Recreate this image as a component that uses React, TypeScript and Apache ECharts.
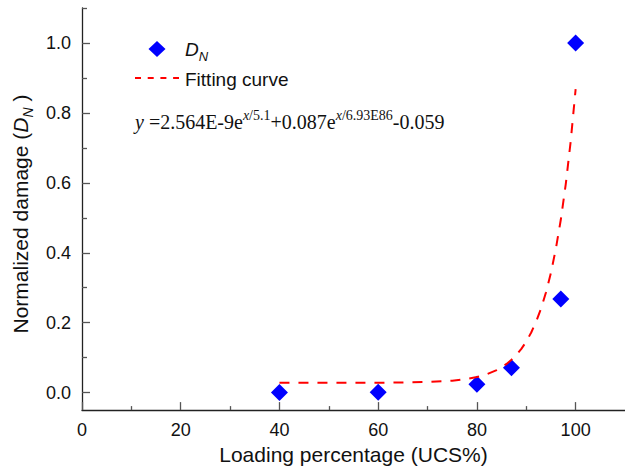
import React, { useEffect, useRef } from "react";
import * as echarts from "echarts";

const xMajorTicks = [0, 20, 40, 60, 80, 100];
const xMinorTicks = [10, 30, 50, 70, 90];
const yMajorTicks = [0, 0.2, 0.4, 0.6, 0.8, 1.0];
const yMinorTicks = [0.1, 0.3, 0.5, 0.7, 0.9, 1.1];

const loadingPct = [40, 60, 80, 87, 97, 100];
const damage = [0.0, 0.001, 0.024, 0.071, 0.268, 1.0];

const fitX = [40, 50, 60, 65, 70, 75, 78, 80, 82, 84, 85, 86, 87, 88, 89, 90, 91, 92, 93, 94, 95, 96, 97, 98, 99, 100];
const fitY = [0.028, 0.028, 0.0283, 0.0289, 0.0303, 0.0342, 0.0392, 0.0446, 0.0526, 0.0645, 0.0724, 0.082, 0.094, 0.108, 0.125, 0.146, 0.172, 0.203, 0.241, 0.287, 0.343, 0.412, 0.495, 0.596, 0.719, 0.868];

const SANS = 'Arial, "Liberation Sans", sans-serif';
const SERIF = '"Times New Roman", "Liberation Serif", serif';
const AXIS_COLOR = "#222";
const TICK_COLOR = "#555";

export default function App() {
  const ref = useRef<HTMLDivElement>(null);
  useEffect(() => {
    if (!ref.current) return;
    const chart = echarts.init(ref.current, undefined, { renderer: "svg" });
    const xBase = { type: "value", min: 0, max: 110, gridIndex: 0, position: "bottom", splitLine: { show: false } };
    const yBase = { type: "value", min: -0.05, max: 1.1, gridIndex: 0, position: "left", splitLine: { show: false } };
    chart.setOption({
      animation: false,
      backgroundColor: "#fff",
      grid: { left: 82, right: -2, top: 8, bottom: 58, containLabel: false },
      xAxis: [
        {
          ...xBase,
          name: "Loading percentage (UCS%)",
          nameLocation: "middle",
          nameGap: 32,
          nameTextStyle: { fontFamily: SANS, fontSize: 21, color: "#111" },
          axisLine: { show: true, onZero: false, lineStyle: { color: AXIS_COLOR, width: 1.3 } },
          axisTick: { show: true, inside: true, length: 8, customValues: xMajorTicks, lineStyle: { color: TICK_COLOR, width: 1.3 } },
          axisLabel: { show: true, customValues: xMajorTicks, margin: 11, fontFamily: SANS, fontSize: 18, color: "#111" },
        },
        {
          ...xBase,
          axisLine: { show: false, onZero: false },
          axisTick: { show: true, inside: true, length: 4, customValues: xMinorTicks, lineStyle: { color: TICK_COLOR, width: 1.3 } },
          axisLabel: { show: false },
        },
      ],
      yAxis: [
        {
          ...yBase,
          name: "{n|Normalized damage (}{i|D}{s|N}{n| )}",
          nameLocation: "middle",
          nameGap: 45,
          nameTextStyle: {
            fontFamily: SANS,
            fontSize: 21,
            color: "#111",
            padding: [0, 10, 0, 0],
            rich: {
              n: { fontFamily: SANS, fontSize: 21, lineHeight: 30, color: "#111" },
              i: { fontFamily: SANS, fontSize: 21, lineHeight: 30, fontStyle: "italic", color: "#111" },
              s: { fontFamily: SANS, fontSize: 14, lineHeight: 14, fontStyle: "italic", verticalAlign: "bottom", color: "#111" },
            },
          },
          axisLine: { show: true, onZero: false, lineStyle: { color: AXIS_COLOR, width: 1.3 } },
          axisTick: { show: true, inside: true, length: 8, customValues: yMajorTicks, lineStyle: { color: TICK_COLOR, width: 1.3 } },
          axisLabel: {
            show: true,
            customValues: yMajorTicks,
            margin: 11,
            fontFamily: SANS,
            fontSize: 18,
            color: "#111",
            formatter: (v: number) => v.toFixed(1),
          },
        },
        {
          ...yBase,
          axisLine: { show: false, onZero: false },
          axisTick: { show: true, inside: true, length: 5, customValues: yMinorTicks, lineStyle: { color: TICK_COLOR, width: 1.3 } },
          axisLabel: { show: false },
        },
      ],
      series: [
        {
          name: "D_N",
          type: "scatter",
          xAxisIndex: 0,
          yAxisIndex: 0,
          symbol: "diamond",
          symbolSize: 17,
          itemStyle: { color: "#0000ff", opacity: 1 },
          data: loadingPct.map((x, i) => [x, damage[i]]),
          z: 2,
        },
        {
          name: "Fitting curve",
          type: "line",
          xAxisIndex: 0,
          yAxisIndex: 0,
          showSymbol: false,
          symbol: "none",
          smooth: false,
          lineStyle: { color: "#ff0000", width: 2, type: [10, 9] },
          data: fitX.map((x, i) => [x, fitY[i]]),
          z: 3,
        },
      ],
      graphic: [
        {
          type: "polygon",
          shape: { points: [[157, 41], [165.5, 49], [157, 57], [148.5, 49]] },
          style: { fill: "#0000ff" },
        },
        {
          type: "text",
          x: 185,
          y: 35,
          style: {
            text: "{d|D}{s|N}",
            align: "left",
            verticalAlign: "top",
            rich: {
              d: { fontFamily: SANS, fontSize: 19, lineHeight: 28, fontStyle: "italic", fill: "#111" },
              s: { fontFamily: SANS, fontSize: 13, lineHeight: 13, fontStyle: "italic", verticalAlign: "bottom", fill: "#111" },
            },
          },
        },
        {
          type: "line",
          shape: { x1: 135, y1: 78, x2: 179, y2: 78 },
          style: { stroke: "#ff0000", lineWidth: 2, lineDash: [6, 6.7] },
        },
        {
          type: "text",
          x: 185,
          y: 79,
          style: {
            text: "Fitting curve",
            fontFamily: SANS,
            fontSize: 19,
            fill: "#111",
            align: "left",
            verticalAlign: "middle",
          },
        },
        {
          type: "text",
          x: 135,
          y: 108,
          style: {
            text: "{yi|y}{m| =2.564E-9e}{si|x}{s|/5.1}{m|+0.087e}{si|x}{s|/6.93E86}{m|-0.059}",
            align: "left",
            verticalAlign: "top",
            rich: {
              yi: { fontFamily: SERIF, fontSize: 20, lineHeight: 28, fontStyle: "italic", fill: "#111" },
              m: { fontFamily: SERIF, fontSize: 20, lineHeight: 28, fill: "#111" },
              si: { fontFamily: SERIF, fontSize: 14, lineHeight: 16, fontStyle: "italic", verticalAlign: "top", fill: "#111" },
              s: { fontFamily: SERIF, fontSize: 14, lineHeight: 16, verticalAlign: "top", fill: "#111" },
            },
          },
        },
      ],
    });
    return () => chart.dispose();
  }, []);
  return (
    <div
      ref={ref}
      style={{ position: "fixed", left: 0, top: 0, width: 625, height: 470, background: "#fff" }}
    />
  );
}
